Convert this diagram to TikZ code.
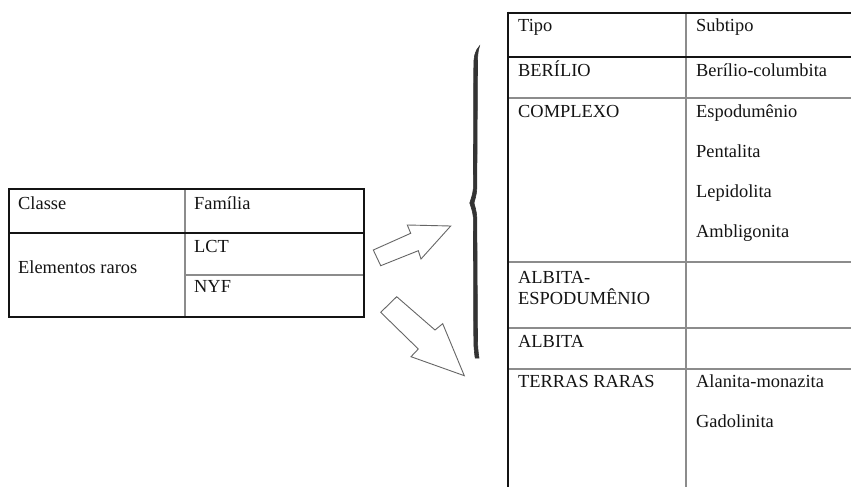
\documentclass[tikz,border=0pt]{standalone}
\usepackage{fontspec}
\setmainfont{Liberation Serif}
\begin{document}
\begin{tikzpicture}[x=1pt,y=-1pt,
  txt/.style={anchor=base west,inner sep=0pt,text=black!92,font=\fontsize{18.4}{21}\selectfont},
  thickln/.style={line width=2.6pt,draw=black!92},
  thinln/.style={line width=1.4pt,draw=black!45},
  blockarrow/.style={draw=black!60,line width=0.9pt,fill=white,line join=miter},
  bracestyle/.style={fill=black!80,draw=black!80,line width=0.6pt}]
\useasboundingbox (0,0) rectangle (851,487);
\clip (0,0) rectangle (851,487);
\fill[white] (0,0) rectangle (851,487);

% ---- left table ----
\draw[thinln] (185,189) -- (185,317);
\draw[thinln] (185,275) -- (364,275);
\draw[thickln] (9,233) -- (364,233);
\draw[thickln] (9,189) rectangle (364,317);
\node[txt] (classe) at (18,209) {Classe};
\node[txt] (familia) at (194,209) {Família};
\node[txt] (elem) at (18,273) {Elementos raros};
\node[txt] (lct) at (194,252) {LCT};
\node[txt] (nyf) at (194,292) {NYF};

% ---- arrows ----
\draw[blockarrow] (373.3,250) -- (380.7,265.7) -- (418.3,250.7) -- (421,259)
  -- (450.7,226) -- (407.3,225) -- (410.7,233.3) -- cycle;
\draw[blockarrow] (380.7,312.3) -- (396.7,296.7) -- (435,330) -- (442.7,323.7)
  -- (464.3,375.7) -- (411,356.7) -- (418.3,349) -- cycle;

% ---- brace ----
\fill[bracestyle] (479.5,46) .. controls (477.5,52) and (477.5,58) .. (477.5,66)
  -- (476.8,188) .. controls (476.5,196) and (474.5,200) .. (474,203)
  .. controls (474.5,206) and (476.5,210) .. (476.8,218)
  -- (477.5,338) .. controls (477.5,346) and (478,352) .. (479,358)
  -- (475.2,358) .. controls (474,350) and (473.8,344) .. (473.8,338)
  -- (473.4,218) .. controls (473,212) and (471,207) .. (469.8,203)
  .. controls (471,199) and (473,194) .. (473.4,188)
  -- (473.8,66) .. controls (473.8,58) and (474.5,51) .. (479.5,46) -- cycle;

% ---- right table ----
\draw[thinln] (686,13) -- (686,490);
\draw[thinln] (508,98) -- (855,98);
\draw[thinln] (508,262) -- (855,262);
\draw[thinln] (508,328) -- (855,328);
\draw[thinln] (508,369) -- (855,369);
\draw[thickln] (508,13) -- (855,13);
\draw[thickln] (508,57) -- (855,57);
\draw[thickln] (508,11.7) -- (508,490);

\node[txt] (tipo) at (518,32) {Tipo};
\node[txt] (subtipo) at (696,32) {Subtipo};
\node[txt] (berilio) at (518,77) {BERÍLIO};
\node[txt] (bercol) at (696,77) {Berílio-columbita};
\node[txt] (complexo) at (518,117) {COMPLEXO};
\node[txt] (espod) at (696,117) {Espodumênio};
\node[txt] (pental) at (696,157) {Pentalita};
\node[txt] (lepid) at (696,197) {Lepidolita};
\node[txt] (ambli) at (696,237) {Ambligonita};
\node[txt] (albesp1) at (518,283) {ALBITA-};
\node[txt] (albesp2) at (518,304) {ESPODUMÊNIO};
\node[txt] (albita) at (518,347) {ALBITA};
\node[txt] (terras) at (518,387) {TERRAS RARAS};
\node[txt] (alanita) at (696,387) {Alanita-monazita};
\node[txt] (gadol) at (696,427) {Gadolinita};
\end{tikzpicture}
\end{document}
